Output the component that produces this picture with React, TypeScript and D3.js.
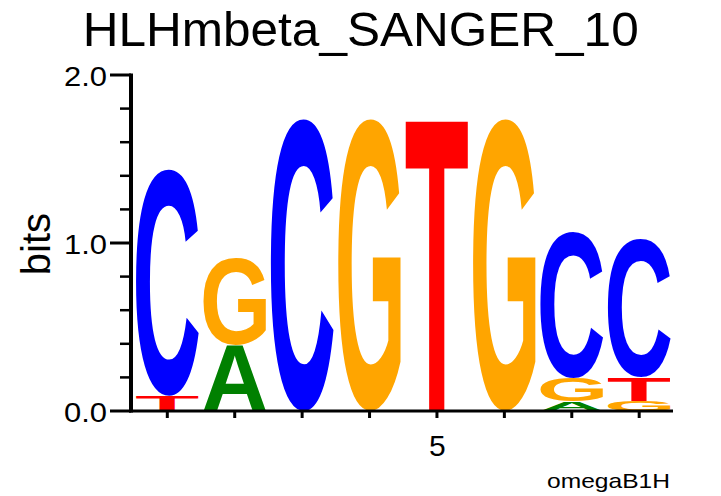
import React, { useMemo } from "react";
import * as d3 from "d3";

const title = "HLHmbeta_SANGER_10";
const yLabel = "bits";
const footer = "omegaB1H";
const positions = [1, 2, 3, 4, 5, 6, 7, 8];
const columnLetters = [["T", "C"], ["A", "G"], ["C"], ["G"], ["T"], ["G"], ["A", "G", "C"], ["G", "T", "C"]];
const columnBits = [[0.09, 1.35], [0.39, 0.515], [1.74], [1.74], [1.74], [1.74], [0.055, 0.14, 0.87], [0.06, 0.14, 0.825]];
const majorTicks = [0, 1, 2];
const majorTickLabels = ["0.0", "1.0", "2.0"];
const minorTicks = [0.2, 0.4, 0.6, 0.8, 1.2, 1.4, 1.6, 1.8];
const xTickLabels = [{ pos: 5, label: "5" }];
const letterColors: Record<string, string> = { A: "#008000", C: "#0000ff", G: "#ffa500", T: "#ff0000" };

const FONT = "'Liberation Sans', Arial, Helvetica, sans-serif";

function measure(ch: string) {
  const c = document.createElement("canvas");
  const ctx = c.getContext("2d")!;
  ctx.font = `bold 200px ${FONT}`;
  const m = ctx.measureText(ch);
  return {
    L: m.actualBoundingBoxLeft,
    R: m.actualBoundingBoxRight,
    A: m.actualBoundingBoxAscent,
    D: m.actualBoundingBoxDescent,
  };
}

export default function App() {
  const x = d3.scaleLinear().domain([0.5, 8.5]).range([133.6, 672.9]);
  const y = d3.scaleLinear().domain([0, 2]).range([411, 75]);
  const step = x(2) - x(1);
  const letterW = step * 0.93;

  const metrics = useMemo(() => {
    const r: Record<string, ReturnType<typeof measure>> = {};
    ["A", "C", "G", "T"].forEach((ch) => (r[ch] = measure(ch)));
    return r;
  }, []);

  const glyphs: React.ReactNode[] = [];
  positions.forEach((p, i) => {
    let base = 0;
    columnLetters[i].forEach((ch, j) => {
      const h = columnBits[i][j];
      const yBottom = y(base);
      const yTop = y(base + h);
      base += h;
      const m = metrics[ch];
      const boxH = yBottom - yTop;
      const x0 = x(p) - letterW / 2;
      const sx = letterW / (m.L + m.R);
      const sy = boxH / (m.A + m.D);
      glyphs.push(
        <text
          key={`${p}-${j}`}
          transform={`translate(${x0 + m.L * sx},${yTop + m.A * sy}) scale(${sx},${sy})`}
          fontFamily={FONT}
          fontWeight="bold"
          fontSize={200}
          fill={letterColors[ch]}
        >
          {ch}
        </text>
      );
    });
  });

  return (
    <svg width={721} height={496} style={{ position: "absolute", left: 0, top: 0, background: "#fff" }}>
      <rect width={721} height={496} fill="#fff" />
      <text x={360.7} y={46} textAnchor="middle" fontFamily={FONT} fontSize={49} textLength={556} lengthAdjust="spacingAndGlyphs">
        {title}
      </text>
      <text transform={`translate(50,244) rotate(-90)`} textAnchor="middle" fontFamily={FONT} fontSize={40}>
        {yLabel}
      </text>
      {glyphs}
      {/* y axis */}
      <line x1={131} x2={131} y1={y(2) - 1.5} y2={y(0) + 1.5} stroke="#000" strokeWidth={4} />
      {majorTicks.map((t, i) => (
        <g key={`maj${t}`}>
          <line x1={110} x2={131} y1={y(t)} y2={y(t)} stroke="#000" strokeWidth={3} />
          <text x={107} y={y(t) + 10.5} textAnchor="end" fontFamily={FONT} fontSize={28} textLength={43} lengthAdjust="spacingAndGlyphs">
            {majorTickLabels[i]}
          </text>
        </g>
      ))}
      {minorTicks.map((t) => (
        <line key={`min${t}`} x1={120} x2={131} y1={y(t)} y2={y(t)} stroke="#000" strokeWidth={2.5} />
      ))}
      {/* x axis */}
      <line x1={129} x2={673} y1={y(0)} y2={y(0)} stroke="#000" strokeWidth={3} />
      {positions.map((p) => (
        <line key={`xt${p}`} x1={x(p)} x2={x(p)} y1={y(0)} y2={y(0) + 7} stroke="#000" strokeWidth={3} />
      ))}
      {xTickLabels.map((t) => (
        <text key={`xl${t.pos}`} x={x(t.pos) + 0.5} y={456} textAnchor="middle" fontFamily={FONT} fontSize={30}>
          {t.label}
        </text>
      ))}
      <text x={670} y={488} textAnchor="end" fontFamily={FONT} fontSize={21} textLength={123} lengthAdjust="spacingAndGlyphs">
        {footer}
      </text>
    </svg>
  );
}
